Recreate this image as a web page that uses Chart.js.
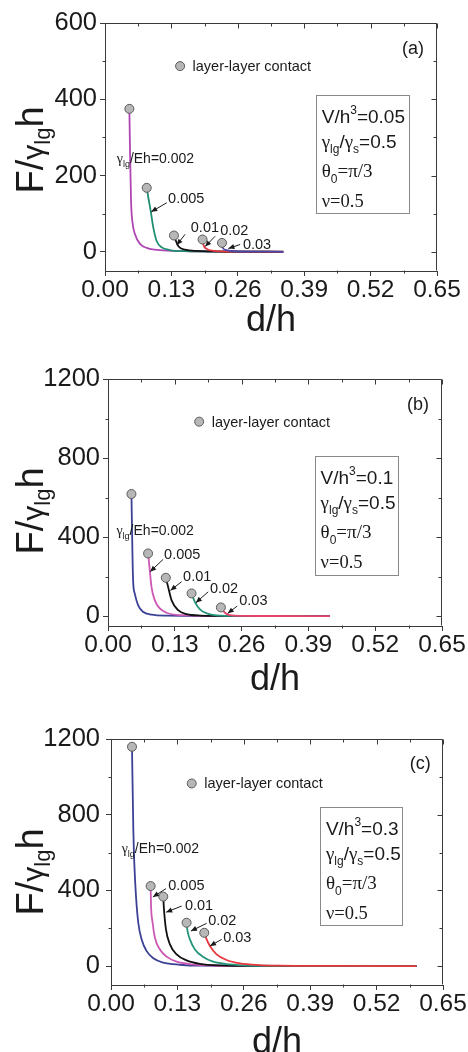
<!DOCTYPE html>
<html>
<head>
<meta charset="utf-8">
<script src="https://cdn.jsdelivr.net/npm/chart.js@4.4.1/dist/chart.umd.min.js"></script>
<style>
  html, body { margin: 0; padding: 0; background: #fff; }
  body { width: 468px; height: 1052px; position: relative; overflow: hidden; }
  .panel { position: absolute; left: 0; width: 468px; }
  canvas { display: block; }
</style>
</head>
<body>
<div class="panel" style="top:0px"><canvas id="panelA" width="468" height="345"></canvas></div>
<div class="panel" style="top:345px"><canvas id="panelB" width="468" height="350"></canvas></div>
<div class="panel" style="top:695px"><canvas id="panelC" width="468" height="357"></canvas></div>
<script>
// ---- axis ticks ----
const xTicks = [0, 0.13, 0.26, 0.39, 0.52, 0.65];
const yTicksA = [0, 200, 400, 600];
const yTicksB = [0, 400, 800, 1200];
const yTicksC = [0, 400, 800, 1200];

// gamma_lg / Eh values, one curve each
const ratioLabels = ['0.002', '0.005', '0.01', '0.02', '0.03'];

// ---- (a) V/h^3 = 0.05 : [d/h, F/(gamma_lg h)] ----
const a002 = [[0.0477, 375], [0.0490, 265], [0.0510, 133], [0.0535, 81], [0.0588, 46], [0.0686, 21], [0.0817, 10.5], [0.108, 4.5], [0.153, 2], [0.22, 0.8], [0.349, 0.2]];
const a005 = [[0.0817, 168], [0.0849, 142], [0.0895, 107], [0.0947, 63], [0.1013, 28], [0.111, 12], [0.127, 5], [0.16, 2], [0.23, 0.8], [0.349, 0.3]];
const a01  = [[0.135, 43], [0.1385, 30], [0.1437, 15], [0.1567, 6], [0.18, 2.5], [0.25, 0.8], [0.349, 0.3]];
const a02  = [[0.191, 32.6], [0.1927, 19], [0.199, 8], [0.212, 3], [0.25, 1], [0.349, 0.4]];
const a03  = [[0.229, 23.7], [0.2306, 10.5], [0.238, 4.5], [0.255, 1.8], [0.30, 0.8], [0.349, 0.4]];

// ---- (b) V/h^3 = 0.1 ----
const b002 = [[0.0456, 618], [0.0468, 435], [0.0488, 182], [0.052, 115], [0.0585, 56], [0.068, 22], [0.0846, 7], [0.115, 2], [0.20, 0.5], [0.432, 0.1]];
const b005 = [[0.078, 317], [0.0813, 233], [0.0846, 148], [0.091, 81], [0.1008, 39], [0.1138, 17], [0.14, 5], [0.20, 1.2], [0.432, 0.2]];
const b01  = [[0.1125, 194], [0.117, 148], [0.1236, 81], [0.1365, 30], [0.153, 10], [0.18, 3], [0.25, 0.8], [0.432, 0.2]];
const b02  = [[0.1626, 115], [0.169, 72], [0.179, 34], [0.192, 14], [0.211, 4], [0.26, 1], [0.432, 0.3]];
const b03  = [[0.2197, 44], [0.2275, 17], [0.2373, 5], [0.26, 1.5], [0.32, 0.5], [0.432, 0.2]];

// ---- (c) V/h^3 = 0.3 ----
const c002 = [[0.0411, 1159], [0.0437, 722], [0.0456, 546], [0.0489, 370], [0.0534, 229], [0.060, 141], [0.0698, 79], [0.0828, 41], [0.1023, 18], [0.135, 7], [0.174, 2], [0.30, 0.5], [0.598, 0.1]];
const c005 = [[0.0776, 423], [0.0782, 335], [0.0815, 229], [0.086, 150], [0.0958, 88], [0.109, 50], [0.1285, 23], [0.161, 9], [0.20, 3], [0.30, 0.8], [0.598, 0.2]];
const c01  = [[0.1023, 367], [0.1037, 300], [0.1076, 194], [0.1154, 115], [0.1285, 62], [0.148, 30], [0.174, 12], [0.21, 4], [0.30, 1], [0.598, 0.2]];
const c02  = [[0.148, 229], [0.1493, 194], [0.1545, 141], [0.1643, 88], [0.1806, 48], [0.20, 23], [0.232, 9], [0.27, 3], [0.35, 1], [0.598, 0.2]];
const c03  = [[0.1826, 176], [0.1858, 150], [0.1937, 106], [0.2067, 62], [0.2263, 32], [0.2523, 14], [0.29, 5], [0.33, 2], [0.42, 0.6], [0.598, 0.2]];

// V/h^3 of each panel
const volumes = ['0.05', '0.1', '0.3'];

// ---- styling ----
const SANS = '"Liberation Sans", Arial, Helvetica, sans-serif';
const SERIF = '"Liberation Serif", "Times New Roman", serif';
const INK = '#1a1a1a';
const AXIS = '#3a3a3a';

function fnt(size, fam) { return size + 'px ' + fam; }
function richWidth(ctx, segs) {
  let w = 0;
  for (const s of segs) { ctx.font = fnt(s[1], s[2]); w += ctx.measureText(s[0]).width; }
  return w;
}
function drawRich(ctx, segs, x, y) {
  for (const s of segs) {
    ctx.font = fnt(s[1], s[2]);
    ctx.fillText(s[0], x, y + (s[3] || 0));
    x += ctx.measureText(s[0]).width;
  }
}
function paramLines(vol) {
  return [
    [['V/h', 19, SANS], ['3', 12, SANS, -9], ['=' + vol, 19, SANS]],
    [['γ', 19, SERIF], ['lg', 12, SANS, 5], ['/', 19, SANS], ['γ', 19, SERIF], ['s', 12, SANS, 5], ['=0.5', 19, SANS]],
    [['θ', 19, SERIF], ['0', 12, SANS, 6], ['=π/3', 19, SERIF]],
    [['ν=0.5', 18.5, SERIF]]
  ];
}

// Panel layouts: plot area in canvas pixels; decorations in data coordinates
const panels = {
  panelA: {
    height: 345, area: { left: 105, right: 437, top: 23, bottom: 271 },
    yMin: -50, yMax: 600, yTicks: yTicksA, yPad: 3,
    curves: [a002, a005, a01, a02, a03],
    colors: ['#b046b4', '#1f8f72', '#111111', '#e2343f', '#4848a8'],
    yTitle: { x: 43, cy: 150 }, xTitleY: 331,
    legend: { d: 0.147, F: 487 },
    letter: { text: '(a)', d: 0.5814, F: 537 },
    box: { d0: 0.4135, d1: 0.5957, F0: 412, F1: 102 }, vol: volumes[0],
    first: { d: 0.0229, F: 246.6 },
    notes: [
      { d: 0.1235, F: 142, from: [0.121, 129], to: [0.0905, 105] },
      { d: 0.168, F: 65, from: [0.1568, 46], to: [0.1405, 18] },
      { d: 0.2254, F: 59, from: [0.2156, 41], to: [0.196, 14] },
      { d: 0.270, F: 21, from: [0.2646, 19.5], to: [0.2416, 9] }
    ]
  },
  panelB: {
    height: 350, area: { left: 108, right: 442, top: 34, bottom: 281 },
    yMin: -50, yMax: 1200, yTicks: yTicksB, yPad: 3,
    curves: [b002, b005, b01, b02, b03],
    colors: ['#3b4194', '#cc58b4', '#111111', '#25957a', '#e8426e'],
    yTitle: { x: 43, cy: 166 }, xTitleY: 345,
    legend: { d: 0.1774, F: 984 },
    letter: { text: '(b)', d: 0.582, F: 1077 },
    box: { d0: 0.403, d1: 0.564, F0: 810, F1: 208 }, vol: volumes[1],
    first: { d: 0.0164, F: 435 },
    notes: [
      { d: 0.1092, F: 314, from: [0.1072, 287], to: [0.082, 225] },
      { d: 0.1462, F: 204, from: [0.1431, 174], to: [0.1215, 130] },
      { d: 0.1983, F: 143, from: [0.195, 123], to: [0.171, 68] },
      { d: 0.2554, F: 81, from: [0.2515, 51], to: [0.233, 14] }
    ]
  },
  panelC: {
    height: 357, area: { left: 111, right: 443, top: 44, bottom: 290 },
    yMin: -100, yMax: 1200, yTicks: yTicksC, yPad: 6,
    curves: [c002, c005, c01, c02, c03],
    colors: ['#3b4194', '#cc58b4', '#111111', '#25957a', '#e8383f'],
    yTitle: { x: 43, cy: 177 }, xTitleY: 358,
    legend: { d: 0.158, F: 965 },
    letter: { text: '(c)', d: 0.585, F: 1075 },
    box: { d0: 0.410, d1: 0.5707, F0: 842, F1: 219 }, vol: volumes[2],
    first: { d: 0.0209, F: 626 },
    notes: [
      { d: 0.1121, F: 432, from: [0.1076, 409], to: [0.082, 365] },
      { d: 0.1448, F: 326, from: [0.1383, 317], to: [0.108, 285] },
      { d: 0.1903, F: 247, from: [0.1872, 226], to: [0.1565, 185] },
      { d: 0.2197, F: 155, from: [0.2166, 141], to: [0.1937, 106] }
    ]
  }
};

function arrow(ctx, x1, y1, x2, y2) {
  ctx.beginPath(); ctx.moveTo(x1, y1); ctx.lineTo(x2, y2); ctx.stroke();
  const a = Math.atan2(y2 - y1, x2 - x1), L = 6, W = 2.6;
  ctx.beginPath();
  ctx.moveTo(x2, y2);
  ctx.lineTo(x2 - L * Math.cos(a) + W * Math.sin(a), y2 - L * Math.sin(a) - W * Math.cos(a));
  ctx.lineTo(x2 - L * Math.cos(a) - W * Math.sin(a), y2 - L * Math.sin(a) + W * Math.cos(a));
  ctx.closePath(); ctx.fill();
}

const decor = {
  id: 'decor',
  afterDraw(chart) {
    const p = panels[chart.canvas.id];
    const { ctx, chartArea: ca } = chart;
    const X = v => chart.scales.x.getPixelForValue(v);
    const Y = v => chart.scales.y.getPixelForValue(v);
    ctx.save();
    ctx.strokeStyle = AXIS; ctx.fillStyle = INK; ctx.lineWidth = 1;
    ctx.textBaseline = 'alphabetic'; ctx.textAlign = 'left';

    // frame: top and right sides
    const L = Math.round(ca.left) + 0.5, R = Math.round(ca.right) - 0.5;
    const T = Math.round(ca.top) + 0.5, B = Math.round(ca.bottom) - 0.5;
    ctx.beginPath();
    ctx.moveTo(L, T); ctx.lineTo(R, T); ctx.lineTo(R, B);
    ctx.stroke();

    // tick marks: outward on left/bottom (minor), inward on top/right
    ctx.beginPath();
    xTicks.forEach((v, i) => {
      const px = Math.round(X(v)) + 0.5;
      ctx.moveTo(px, T); ctx.lineTo(px, T + 5);
      if (i > 0) {
        const m = Math.round(X((v + xTicks[i - 1]) / 2)) + 0.5;
        ctx.moveTo(m, T); ctx.lineTo(m, T + 3);
        ctx.moveTo(m, B); ctx.lineTo(m, B + 3);
      }
    });
    p.yTicks.forEach((v, i) => {
      const py = Math.round(Y(v)) + 0.5;
      ctx.moveTo(R, py); ctx.lineTo(R - 5, py);
      if (i > 0) {
        const m = Math.round(Y((v + p.yTicks[i - 1]) / 2)) + 0.5;
        ctx.moveTo(R, m); ctx.lineTo(R - 3, m);
        ctx.moveTo(L, m); ctx.lineTo(L - 3, m);
      }
    });
    ctx.stroke();

    // axis titles
    ctx.font = fnt(36, SANS);
    ctx.textAlign = 'center';
    ctx.fillText('d/h', (ca.left + ca.right) / 2, p.xTitleY);
    ctx.textAlign = 'left';
    ctx.save();
    ctx.translate(p.yTitle.x, p.yTitle.cy);
    ctx.rotate(-Math.PI / 2);
    const ySegs = [['F/', 38, SANS], ['γ', 30, SANS], ['lg', 22, SANS, 7], ['h', 38, SANS]];
    drawRich(ctx, ySegs, -richWidth(ctx, ySegs) / 2, 0);
    ctx.restore();

    // legend entry
    const lx = X(p.legend.d), ly = Y(p.legend.F);
    ctx.beginPath(); ctx.arc(lx, ly, 4.5, 0, Math.PI * 2);
    ctx.fillStyle = '#b7b7b7'; ctx.fill();
    ctx.strokeStyle = '#5a5a5a'; ctx.stroke();
    ctx.fillStyle = INK;
    ctx.font = fnt(14.5, SANS);
    ctx.fillText('layer-layer contact', lx + 12.5, ly + 5);

    // panel letter
    ctx.font = fnt(18, SANS);
    ctx.fillText(p.letter.text, X(p.letter.d), Y(p.letter.F) + 6.5);

    // parameter box
    const bx0 = X(p.box.d0), bx1 = X(p.box.d1), by0 = Y(p.box.F0), by1 = Y(p.box.F1);
    ctx.strokeStyle = '#8a8a8a';
    ctx.strokeRect(Math.round(bx0) + 0.5, Math.round(by0) + 0.5, Math.round(bx1 - bx0), Math.round(by1 - by0));
    const offs = [21, 46, 75, 105];
    paramLines(p.vol).forEach((segs, i) => drawRich(ctx, segs, bx0 + 5.5, by0 + offs[i] + 6.8));

    // curve labels and arrows
    drawRich(ctx, [['γ', 14, SERIF], ['lg', 9, SANS, 4], ['/Eh=' + ratioLabels[0], 14, SANS]], X(p.first.d), Y(p.first.F) + 5);
    ctx.strokeStyle = INK; ctx.lineWidth = 1;
    p.notes.forEach((n, i) => {
      ctx.font = fnt(14.5, SANS);
      ctx.fillText(ratioLabels[i + 1], X(n.d), Y(n.F) + 5.2);
      arrow(ctx, X(n.from[0]), Y(n.from[1]), X(n.to[0]), Y(n.to[1]));
    });
    ctx.restore();
  }
};

function buildChart(id) {
  const p = panels[id];
  const datasets = p.curves.map((c, i) => ({
    data: c.map(([x, y]) => ({ x, y })),
    showLine: true,
    borderColor: p.colors[i],
    borderWidth: 1.8,
    pointRadius: 0,
    cubicInterpolationMode: 'monotone',
    order: 10 - i
  }));
  datasets.push({
    data: p.curves.map(c => ({ x: c[0][0], y: c[0][1] })),
    showLine: false,
    pointRadius: 4.5,
    pointBackgroundColor: '#b7b7b7',
    pointBorderColor: '#5a5a5a',
    pointBorderWidth: 1,
    order: 0
  });
  new Chart(document.getElementById(id), {
    type: 'scatter',
    data: { datasets },
    options: {
      responsive: false,
      animation: false,
      events: [],
      layout: { padding: { left: 0, top: p.area.top, right: 468 - p.area.right, bottom: 0 } },
      scales: {
        x: {
          type: 'linear', min: 0, max: 0.65,
          afterBuildTicks: s => { s.ticks = xTicks.map(v => ({ value: v })); },
          afterFit: s => { s.height = p.height - p.area.bottom; },
          ticks: { callback: v => v.toFixed(2), font: { family: SANS, size: 24.5 }, color: INK, padding: 0, maxRotation: 0, autoSkip: false },
          grid: { drawOnChartArea: false, tickLength: 5, color: AXIS },
          border: { color: AXIS, width: 1 }
        },
        y: {
          type: 'linear', min: p.yMin, max: p.yMax,
          afterBuildTicks: s => { s.ticks = p.yTicks.map(v => ({ value: v })); },
          afterFit: s => { s.width = p.area.left; },
          ticks: { callback: v => String(v), font: { family: SANS, size: 25.5 }, color: INK, padding: p.yPad, autoSkip: false },
          grid: { drawOnChartArea: false, tickLength: 5, color: AXIS },
          border: { color: AXIS, width: 1 }
        }
      },
      plugins: { legend: { display: false }, tooltip: { enabled: false } }
    },
    plugins: [decor]
  });
}

['panelA', 'panelB', 'panelC'].forEach(buildChart);
</script>
</body>
</html>
